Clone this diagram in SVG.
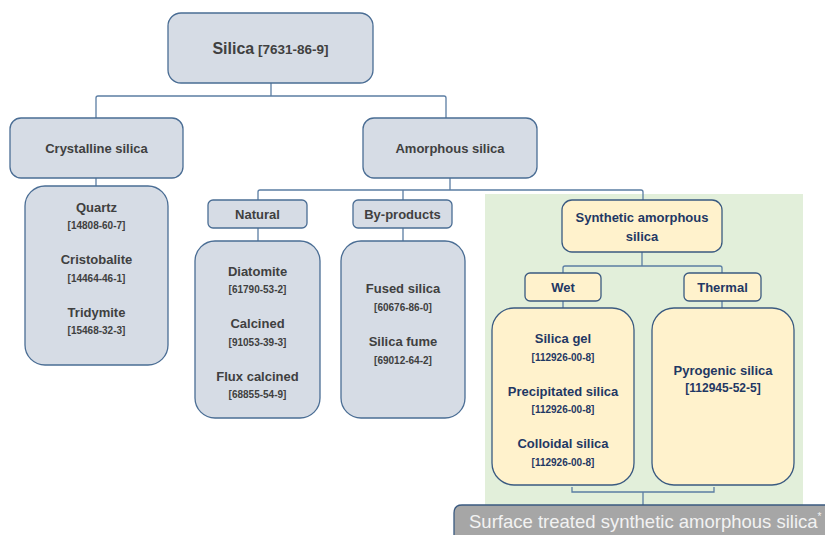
<svg xmlns="http://www.w3.org/2000/svg" width="825" height="535" viewBox="0 0 825 535">
<style>
.b{fill:#D6DCE5;stroke:#4A6D94;stroke-width:1.3}
.y{fill:#FFF2CC;stroke:#3A5A80;stroke-width:1.3}
.t{font-family:"Liberation Sans",Arial,sans-serif;font-weight:bold;text-anchor:middle}
.g{fill:#404040}
.n{fill:#1F3864}
.h{font-size:13px}
.c{font-size:10px}
.con{fill:none;stroke:#5B7DA3;stroke-width:1.3}
</style>
<rect x="485" y="194" width="318" height="316" fill="#E2EFDA"/>
<g id="connectors" class="con">
<path d="M271,83V96M96,118V98q0,-2 2,-2H444q2,0 2,2V118"/>
<path d="M96,178V186"/>
<path d="M450,178V190M258,200V192q0,-2 2,-2H641q2,0 2,2V200M403,190V200"/>
<path d="M258,228V241M403,228V241"/>
<path d="M642,252V266M563,273V268q0,-2 2,-2H720q2,0 2,2V273"/>
<path d="M563,301V308M722,301V308"/>
<path d="M572,487V492H714V487M643,492V505"/>
</g>
<g id="silica">
<rect class="b" x="168" y="13" width="205" height="70" rx="13"/>
<text class="t g" x="270.5" y="54"><tspan font-size="16">Silica</tspan><tspan font-size="13.5"> [7631-86-9]</tspan></text>
</g>
<g id="crystalline">
<rect class="b" x="10" y="118" width="173" height="60" rx="11"/>
<text class="t g h" x="96.5" y="152.5">Crystalline silica</text>
</g>
<g id="amorphous">
<rect class="b" x="363" y="118" width="174" height="60" rx="11"/>
<text class="t g h" x="450" y="152.5">Amorphous silica</text>
</g>
<g id="crystalline-list">
<rect class="b" x="25" y="186" width="143" height="179" rx="20"/>
<text class="t g h" x="96.5" y="211.5">Quartz</text>
<text class="t g c" x="96.5" y="228.5">[14808-60-7]</text>
<text class="t g h" x="96.5" y="263.5">Cristobalite</text>
<text class="t g c" x="96.5" y="281.5">[14464-46-1]</text>
<text class="t g h" x="96.5" y="316.5">Tridymite</text>
<text class="t g c" x="96.5" y="333.5">[15468-32-3]</text>
</g>
<g id="natural">
<rect class="b" x="208" y="200" width="99" height="28" rx="5"/>
<text class="t g h" x="257.5" y="218.5">Natural</text>
</g>
<g id="byproducts">
<rect class="b" x="353" y="200" width="99" height="28" rx="5"/>
<text class="t g h" x="402.5" y="218.5">By-products</text>
</g>
<g id="natural-list">
<rect class="b" x="195" y="241" width="125" height="177" rx="20"/>
<text class="t g h" x="257.5" y="275.5">Diatomite</text>
<text class="t g c" x="257.5" y="292.5">[61790-53-2]</text>
<text class="t g h" x="257.5" y="327.5">Calcined</text>
<text class="t g c" x="257.5" y="345.5">[91053-39-3]</text>
<text class="t g h" x="257.5" y="380.5">Flux calcined</text>
<text class="t g c" x="257.5" y="397.5">[68855-54-9]</text>
</g>
<g id="byproducts-list">
<rect class="b" x="341" y="241" width="124" height="177" rx="20"/>
<text class="t g h" x="403" y="292.5">Fused silica</text>
<text class="t g c" x="403" y="310.5">[60676-86-0]</text>
<text class="t g h" x="403" y="345.5">Silica fume</text>
<text class="t g c" x="403" y="363.5">[69012-64-2]</text>
</g>
<g id="synthetic">
<rect class="y" x="562" y="200" width="160" height="52" rx="10"/>
<text class="t n h" x="642" y="221.5">Synthetic amorphous</text>
<text class="t n h" x="642" y="240.5">silica</text>
</g>
<g id="wet">
<rect class="y" x="525" y="273" width="76" height="28" rx="5"/>
<text class="t n h" x="563" y="291.5">Wet</text>
</g>
<g id="thermal">
<rect class="y" x="684" y="273" width="77" height="28" rx="5"/>
<text class="t n h" x="722.5" y="291.5">Thermal</text>
</g>
<g id="wet-list">
<rect class="y" x="492" y="308" width="142" height="177" rx="22"/>
<text class="t n h" x="563" y="342.5">Silica gel</text>
<text class="t n c" x="563" y="360.5">[112926-00-8]</text>
<text class="t n h" x="563" y="395.5">Precipitated silica</text>
<text class="t n c" x="563" y="412.5">[112926-00-8]</text>
<text class="t n h" x="563" y="447.5">Colloidal silica</text>
<text class="t n c" x="563" y="465.5">[112926-00-8]</text>
</g>
<g id="thermal-list">
<rect class="y" x="652" y="308" width="142" height="177" rx="22"/>
<text class="t n h" x="723" y="374.5">Pyrogenic silica</text>
<text class="t n" font-size="12" x="723" y="392">[112945-52-5]</text>
</g>
<g id="surface-treated">
<path d="M454,540V513q0,-8 8,-8H830V540Z" fill="#A6A6A6" stroke="#3A5A80" stroke-width="1.3"/>
<text x="469" y="528" font-family="'Liberation Sans',Arial,sans-serif" font-size="18.5" fill="#F2F2F2">Surface treated synthetic amorphous silica<tspan font-size="10" dy="-8">*</tspan></text>
</g>
</svg>
